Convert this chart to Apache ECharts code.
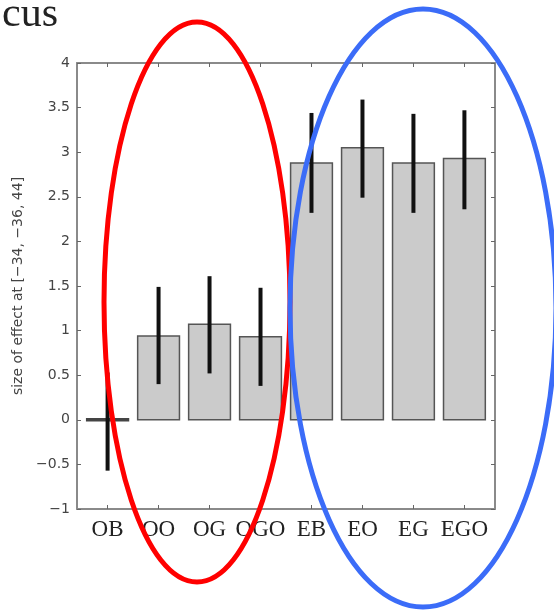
<!DOCTYPE html>
<html>
<head>
<meta charset="utf-8">
<script src="https://cdn.jsdelivr.net/npm/echarts@6/dist/echarts.min.js"></script>
<style>
  html, body { margin: 0; padding: 0; background: #fff; }
  #chart { width: 554px; height: 611px; }
</style>
</head>
<body>
<div id="chart"></div>
<script>
var categories = ['OB', 'OO', 'OG', 'OGO', 'EB', 'EO', 'EG', 'EGO'];
var means = [-0.01, 0.94, 1.07, 0.93, 2.88, 3.05, 2.88, 2.93];
var errLow = [-0.57, 0.40, 0.52, 0.38, 2.32, 2.49, 2.32, 2.36];
var errHigh = [0.53, 1.49, 1.61, 1.48, 3.44, 3.59, 3.43, 3.47];
var yTicks = { min: -1, max: 4, interval: 0.5 };

var chartDom = document.getElementById('chart');
var myChart = echarts.init(chartDom);
var option;

var positions = categories.map(function (c, i) { return i + 1; });
var rows = categories.map(function (c, i) {
    return [i + 1, means[i], errLow[i], errHigh[i]];
});

function renderBar(params, api) {
    var x = api.value(0);
    var v = api.value(1);
    var half = 0.41;
    var p0 = api.coord([x - half, 0]);
    var p1 = api.coord([x + half, v]);
    var lo = api.coord([x, api.value(2)]);
    var hi = api.coord([x, api.value(3)]);
    var h = Math.abs(p1[1] - p0[1]);
    var flat = h < 3;
    return {
        type: 'group',
        children: [
            {
                type: 'rect',
                shape: {
                    x: p0[0],
                    y: flat ? p0[1] - 1 : Math.min(p0[1], p1[1]),
                    width: p1[0] - p0[0],
                    height: flat ? 2 : h
                },
                style: { fill: flat ? '#444' : '#cbcbcb', stroke: flat ? '#444' : '#555', lineWidth: 1.5 }
            },
            {
                type: 'line',
                shape: { x1: lo[0], y1: lo[1], x2: hi[0], y2: hi[1] },
                style: { stroke: '#111', lineWidth: 4 }
            }
        ]
    };
}

var frameColor = '#8a8a8a';

option = {
    animation: false,
    grid: { left: 77, right: 59, top: 63, bottom: 102 },
    xAxis: [
        {
            type: 'value',
            min: 0.4,
            max: 8.6,
            position: 'bottom',
            splitLine: { show: false },
            axisLine: { onZero: false, lineStyle: { color: frameColor, width: 2 } },
            axisTick: { inside: true, length: 4, customValues: positions, lineStyle: { color: '#666' } },
            axisLabel: {
                customValues: positions,
                margin: 9,
                fontFamily: 'Liberation Serif',
                fontSize: 23,
                color: '#222',
                formatter: function (v) { return categories[Math.round(v) - 1]; }
            }
        },
        {
            type: 'value',
            min: 0.4,
            max: 8.6,
            position: 'top',
            splitLine: { show: false },
            axisLine: { onZero: false, lineStyle: { color: frameColor, width: 2 } },
            axisTick: { inside: true, length: 4, customValues: positions, lineStyle: { color: '#666' } },
            axisLabel: { show: false }
        }
    ],
    yAxis: [
        {
            type: 'value',
            min: yTicks.min,
            max: yTicks.max,
            interval: yTicks.interval,
            name: 'size of effect at [\u221234, \u221236, 44]',
            nameLocation: 'middle',
            nameGap: 47,
            nameTextStyle: { fontFamily: 'DejaVu Sans', fontSize: 14, color: '#444' },
            splitLine: { show: false },
            axisLine: { onZero: false, lineStyle: { color: frameColor, width: 2 } },
            axisTick: { inside: true, length: 4, lineStyle: { color: '#666' } },
            axisLabel: {
                fontFamily: 'DejaVu Sans',
                fontSize: 14,
                color: '#444',
                margin: 7,
                formatter: function (v) { return String(v).replace('-', '\u2212'); }
            }
        },
        {
            type: 'value',
            min: yTicks.min,
            max: yTicks.max,
            interval: yTicks.interval,
            position: 'right',
            splitLine: { show: false },
            axisLine: { onZero: false, lineStyle: { color: frameColor, width: 2 } },
            axisTick: { inside: true, length: 4, lineStyle: { color: '#666' } },
            axisLabel: { show: false }
        }
    ],
    graphic: [
        {
            type: 'text',
            left: 2,
            top: -6,
            style: { text: 'cus', font: '42px "Liberation Serif"', fill: '#222' }
        },
        {
            type: 'ellipse',
            shape: { cx: 197, cy: 302, rx: 93, ry: 280 },
            style: { fill: 'none', stroke: '#ff0000', lineWidth: 5 },
            z: 100
        },
        {
            type: 'ellipse',
            shape: { cx: 423, cy: 308, rx: 133, ry: 299 },
            style: { fill: 'none', stroke: '#3b6cf8', lineWidth: 5 },
            z: 100
        }
    ],
    series: [
        {
            type: 'custom',
            xAxisIndex: 0,
            yAxisIndex: 0,
            renderItem: renderBar,
            encode: { x: 0, y: [1, 2, 3] },
            data: rows,
            clip: false
        }
    ]
};

option && myChart.setOption(option);
</script>
</body>
</html>
